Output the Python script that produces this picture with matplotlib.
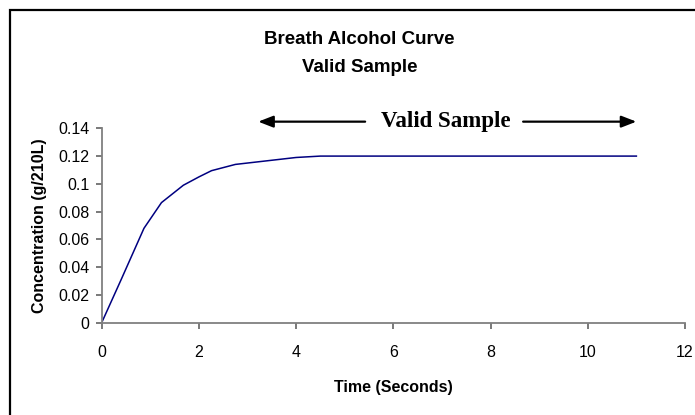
import matplotlib
matplotlib.use("Agg")
from matplotlib import pyplot as plt
from matplotlib.patches import Rectangle

# breath sample readings
time_s = [0, 0.4, 0.87, 1.23, 1.68, 2.0, 2.26, 2.75, 4.0, 4.5, 5, 6, 7, 8, 9, 10, 11]
conc = [0, 0.031, 0.068, 0.0865, 0.099, 0.105, 0.1095, 0.114, 0.119, 0.12,
        0.12, 0.12, 0.12, 0.12, 0.12, 0.12, 0.12]

x_ticks = [0, 2, 4, 6, 8, 10, 12]
y_ticks = [0, 0.02, 0.04, 0.06, 0.08, 0.1, 0.12, 0.14]
y_tick_labels = ["0", "0.02", "0.04", "0.06", "0.08", "0.1", "0.12", "0.14"]

valid_start, valid_end, valid_y = 3.22, 11.0, 0.1448

plt.rcParams['font.family'] = ['Liberation Sans', 'DejaVu Sans']

fig = plt.figure(figsize=(6.95, 4.15), dpi=100)
ax = fig.add_axes([0.1463, 0.2224, 0.8393, 0.4684])

# outer chart frame (cut off at the right and bottom)
fig.patches.append(Rectangle((10 / 695, -0.1), 1.2, 1 - 10 / 415 + 0.1,
                             transform=fig.transFigure, fill=False,
                             edgecolor='black', linewidth=1.6))

ax.plot(time_s, conc, color='#000080', linewidth=1.1)

ax.set_xlim(0, 12)
ax.set_ylim(0, 0.14)
ax.set_xticks(x_ticks)
ax.set_yticks(y_ticks)
ax.set_yticklabels(y_tick_labels)

for side in ['top', 'right']:
    ax.spines[side].set_visible(False)
for side in ['left', 'bottom']:
    ax.spines[side].set_color('#808080')
    ax.spines[side].set_linewidth(1.3)
ax.tick_params(axis='both', direction='out', length=4, width=1.1,
               color='#555555', labelsize=11.5)
ax.tick_params(axis='x', pad=12)
ax.tick_params(axis='y', pad=5)

ax.set_xlabel("Time (Seconds)", fontsize=11.5, fontweight='bold')
ax.xaxis.set_label_coords(0.5, -0.295)
ax.set_ylabel("Concentration (g/210L)", fontsize=11.5, fontweight='bold')
ax.yaxis.set_label_coords(-0.106, 0.5)
ax.yaxis.label.set_va('center')

fig.text(0.517, 1 - 40 / 415, "Breath Alcohol Curve", ha='center', va='center',
         fontsize=13.5, fontweight='bold')
fig.text(0.517, 1 - 68 / 415, "Valid Sample", ha='center', va='center',
         fontsize=13.5, fontweight='bold')

# valid sample window marker
text_x = 7.07
ax.text(text_x, valid_y, "Valid Sample", ha='center', va='center',
        fontsize=16.5, fontfamily='Liberation Serif', fontweight='bold',
        clip_on=False)
arrow = dict(arrowstyle='-|>,head_length=0.9,head_width=0.35', color='black',
             linewidth=1.6, shrinkA=0, shrinkB=0)
ax.annotate("", xy=(valid_start, valid_y), xytext=(5.42, valid_y),
            arrowprops=arrow, annotation_clip=False)
ax.annotate("", xy=(valid_end, valid_y), xytext=(8.67, valid_y),
            arrowprops=arrow, annotation_clip=False)

fig.savefig("out.png", dpi=100)
